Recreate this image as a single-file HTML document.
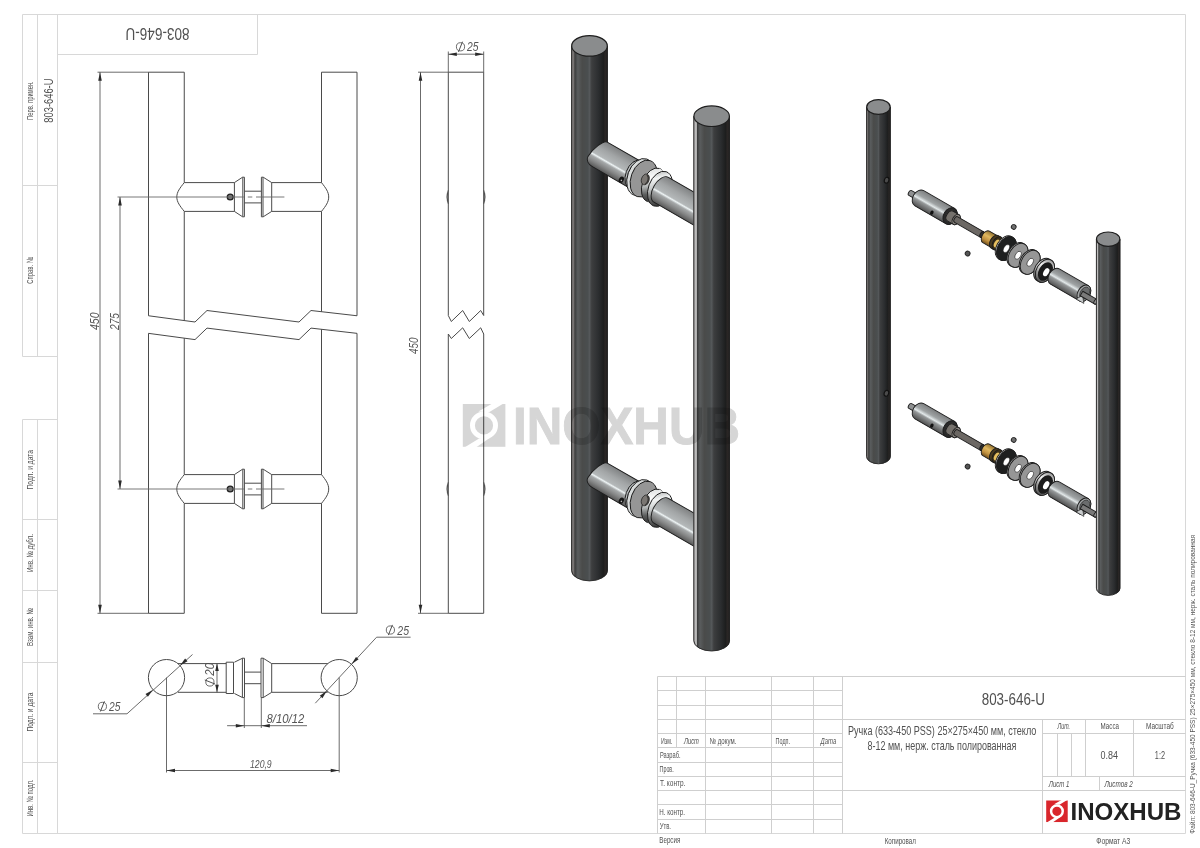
<!DOCTYPE html>
<html><head><meta charset="utf-8">
<style>
html,body{margin:0;padding:0;background:#fff;width:1200px;height:848px;overflow:hidden}
svg{display:block}
text{font-family:"Liberation Sans",sans-serif;fill:#505050}
.fr{stroke:#d8d8d8;stroke-width:1;fill:none}
.tb{stroke:#cfcfcf;stroke-width:1;fill:none}
.ln{stroke:#4a4a4a;stroke-width:1;fill:none}
.dm{stroke:#505050;stroke-width:0.85;fill:none}
.cl{stroke:#6a6a6a;stroke-width:0.9;fill:none}
.ar{fill:#2a2a2a;stroke:none}
</style></head><body>
<svg width="1200" height="848" viewBox="0 0 1200 848">
<!-- FRAME -->
<g id="frame">
<path class="fr" d="M22.5 356.5V14.5H1185.5V833.5H22.5V419.5"/>
<path class="fr" d="M57.5 14.5V833.5"/>
<path class="fr" d="M37.5 14.5V356.5M22.5 185.5H57.5M22.5 356.5H57.5"/>
<path class="fr" d="M37.5 419.5V833.5M22.5 419.5H57.5M22.5 519.5H57.5M22.5 590.5H57.5M22.5 662.5H57.5M22.5 762.5H57.5"/>
<path class="fr" d="M57.5 54.5H257.5V14.5"/>
</g>
<!-- TITLE BLOCK -->
<g id="title">
<path class="tb" d="M657.5 676.5H1185.5M657.5 676.5V833.5"/>
<path class="tb" d="M657.5 690.5H842.5M657.5 705.5H842.5M657.5 719.5H842.5M657.5 733.5H842.5M657.5 747.5H842.5M657.5 762.5H842.5M657.5 776.5H842.5M657.5 790.5H842.5M657.5 804.5H842.5M657.5 819.5H842.5"/>
<path class="tb" d="M676.5 676.5V747.5M705.5 676.5V833.5M771.5 676.5V833.5M813.5 676.5V833.5M842.5 676.5V833.5"/>
<path class="tb" d="M842.5 719.5H1185.5M842.5 790.5H1185.5M1042.5 719.5V833.5M1042.5 733.5H1185.5M1042.5 776.5H1185.5M1057.5 733.5V776.5M1071.5 733.5V776.5M1085.5 719.5V776.5M1133.5 719.5V776.5M1099.5 776.5V790.5"/>
</g>

<g id="texts">
<text transform="translate(33.1,119.9) rotate(-90)" x="0" y="0" font-size="9.2" textLength="38.6" lengthAdjust="spacingAndGlyphs">Перв. примен.</text>
<text transform="translate(52.9,122.7) rotate(-90)" x="0" y="0" font-size="12.6" textLength="44.2" lengthAdjust="spacingAndGlyphs">803-646-U</text>
<text transform="translate(33.1,283.8) rotate(-90)" x="0" y="0" font-size="9.2" textLength="26.8" lengthAdjust="spacingAndGlyphs">Справ. №</text>
<text transform="translate(33.2,489.5) rotate(-90)" x="0" y="0" font-size="9.2" textLength="39.6" lengthAdjust="spacingAndGlyphs">Подп. и дата</text>
<text transform="translate(33.2,572.1) rotate(-90)" x="0" y="0" font-size="9.2" textLength="38" lengthAdjust="spacingAndGlyphs">Инв. № дубл.</text>
<text transform="translate(33.2,646.1) rotate(-90)" x="0" y="0" font-size="9.2" textLength="37.9" lengthAdjust="spacingAndGlyphs">Взам. инв. №</text>
<text transform="translate(33.2,731.5) rotate(-90)" x="0" y="0" font-size="9.2" textLength="38.9" lengthAdjust="spacingAndGlyphs">Подп. и дата</text>
<text transform="translate(33.2,816.6) rotate(-90)" x="0" y="0" font-size="9.2" textLength="37.3" lengthAdjust="spacingAndGlyphs">Инв. № подл.</text>
<text transform="translate(189.5,28) rotate(180)" x="0" y="0" font-size="17" textLength="64" lengthAdjust="spacingAndGlyphs">803-646-U</text>
<text x="661" y="743.8" font-size="8.8" textLength="11.3" lengthAdjust="spacingAndGlyphs">Изм.</text>
<text x="684" y="743.8" font-size="8.8" font-style="italic" textLength="14.8" lengthAdjust="spacingAndGlyphs">Лист</text>
<text x="709.4" y="743.8" font-size="8.8" textLength="26.9" lengthAdjust="spacingAndGlyphs">№ докум.</text>
<text x="775.6" y="743.8" font-size="8.8" textLength="14.4" lengthAdjust="spacingAndGlyphs">Подп.</text>
<text x="820.6" y="743.8" font-size="8.8" font-style="italic" textLength="15.7" lengthAdjust="spacingAndGlyphs">Дата</text>
<text x="660" y="757.8" font-size="8.8" textLength="20.5" lengthAdjust="spacingAndGlyphs">Разраб.</text>
<text x="659.6" y="772" font-size="8.8" textLength="14.1" lengthAdjust="spacingAndGlyphs">Пров.</text>
<text x="660" y="786" font-size="8.8" textLength="25.4" lengthAdjust="spacingAndGlyphs">Т. контр.</text>
<text x="659.3" y="814.8" font-size="8.8" textLength="25.7" lengthAdjust="spacingAndGlyphs">Н. контр.</text>
<text x="659.7" y="828.8" font-size="8.8" textLength="11.3" lengthAdjust="spacingAndGlyphs">Утв.</text>
<text x="659.3" y="842.8" font-size="8.8" textLength="21" lengthAdjust="spacingAndGlyphs">Версия</text>
<text x="884.7" y="843.5" font-size="8.8" textLength="31.2" lengthAdjust="spacingAndGlyphs">Копировал</text>
<text x="1096.3" y="843.5" font-size="8.8" textLength="34" lengthAdjust="spacingAndGlyphs">Формат А3</text>
<text x="981.7" y="705" font-size="16" textLength="63.3" lengthAdjust="spacingAndGlyphs">803-646-U</text>
<text x="848" y="734.7" font-size="12.2" textLength="188.3" lengthAdjust="spacingAndGlyphs">Ручка (633-450 PSS) 25×275×450 мм, стекло</text>
<text x="867.5" y="749.7" font-size="12.2" textLength="148.8" lengthAdjust="spacingAndGlyphs">8-12 мм, нерж. сталь полированная</text>
<text x="1057.5" y="729.4" font-size="8.8" font-style="italic" textLength="12.5" lengthAdjust="spacingAndGlyphs">Лит.</text>
<text x="1100.6" y="729.4" font-size="8.8" textLength="18.4" lengthAdjust="spacingAndGlyphs">Масса</text>
<text x="1146" y="729.4" font-size="8.8" textLength="27.8" lengthAdjust="spacingAndGlyphs">Масштаб</text>
<text x="1100.6" y="759.4" font-size="11.1" textLength="17.5" lengthAdjust="spacingAndGlyphs">0.84</text>
<text x="1154.8" y="759.4" font-size="11.1" textLength="10.2" lengthAdjust="spacingAndGlyphs">1:2</text>
<text x="1048.8" y="786.5" font-size="8.8" font-style="italic" textLength="20.6" lengthAdjust="spacingAndGlyphs">Лист 1</text>
<text x="1104.4" y="786.5" font-size="8.8" font-style="italic" textLength="28.4" lengthAdjust="spacingAndGlyphs">Листов 2</text>
<text transform="translate(1195.2,833.7) rotate(-90)" x="0" y="0" font-size="7.3" textLength="298.8" lengthAdjust="spacingAndGlyphs">Файл: 803-646-U_Ручка (633-450 PSS) 25×275×450 мм, стекло 8-12 мм, нерж. сталь полированная</text>
<text transform="translate(98.6,330) rotate(-90)" x="0" y="0" font-size="12" font-style="italic" style="fill:#555" textLength="17.5" lengthAdjust="spacingAndGlyphs">450</text>
<text transform="translate(118.6,330) rotate(-90)" x="0" y="0" font-size="12" font-style="italic" style="fill:#555" textLength="17" lengthAdjust="spacingAndGlyphs">275</text>
<text transform="translate(417.5,354) rotate(-90)" x="0" y="0" font-size="12" font-style="italic" style="fill:#555" textLength="16.5" lengthAdjust="spacingAndGlyphs">450</text>
<circle cx="460.5" cy="46.8" r="4.1" style="fill:none;stroke:#555;stroke-width:0.85"/>
<path d="M458.46 51.9L462.54 41.7" style="fill:none;stroke:#444;stroke-width:0.95"/>
<text x="467" y="50.8" font-size="12" font-style="italic" style="fill:#555" textLength="11.5" lengthAdjust="spacingAndGlyphs">25</text>
<circle cx="102.4" cy="706.4" r="4.1" style="fill:none;stroke:#555;stroke-width:0.85"/>
<path d="M100.36 711.5L104.44 701.3" style="fill:none;stroke:#444;stroke-width:0.95"/>
<text x="109.1" y="710.8" font-size="12" font-style="italic" style="fill:#555" textLength="11.4" lengthAdjust="spacingAndGlyphs">25</text>
<circle cx="390.4" cy="630" r="4.1" style="fill:none;stroke:#555;stroke-width:0.85"/>
<path d="M388.36 635.1L392.44 624.9" style="fill:none;stroke:#444;stroke-width:0.95"/>
<text x="397.3" y="634.5" font-size="12" font-style="italic" style="fill:#555" textLength="11.7" lengthAdjust="spacingAndGlyphs">25</text>
<text x="250" y="767.5" font-size="11.4" font-style="italic" style="fill:#555" textLength="21.7" lengthAdjust="spacingAndGlyphs">120,9</text>
<text x="266.6" y="722.6" font-size="12.6" font-style="italic" style="fill:#555" textLength="37.6" lengthAdjust="spacingAndGlyphs">8/10/12</text>
<circle cx="209.9" cy="682" r="4.1" style="fill:none;stroke:#555;stroke-width:0.85"/>
<path d="M215 684.04L204.8 679.96" style="fill:none;stroke:#444;stroke-width:0.95"/>
<text transform="translate(214.1,675.7) rotate(-90)" x="0" y="0" font-size="12" font-style="italic" style="fill:#555" textLength="12.7" lengthAdjust="spacingAndGlyphs">20</text>
</g>
<g id="front">
<path class="ln" d="M148.5 315.75 L195 322 L207 310.5 L299 322 L311 310.5 L357 315.75"/>
<path class="ln" d="M148.5 333.35 L195 339.6 L207 328.1 L299 339.6 L311 328.1 L357 333.35"/>
<path class="ln" d="M148.5 72.2 L184.25 72.2"/>
<path class="ln" d="M321.5 72.2 L357 72.2"/>
<path class="ln" d="M148.5 613.3 L184.25 613.3"/>
<path class="ln" d="M321.5 613.3 L357 613.3"/>
<path class="ln" d="M148.5 72.2 L148.5 315.75"/>
<path class="ln" d="M148.5 333.35 L148.5 613.3"/>
<path class="ln" d="M357 72.2 L357 315.75"/>
<path class="ln" d="M357 333.35 L357 613.3"/>
<path class="ln" d="M184.25 182.6 C179.95 188 176.8 192 176.8 197 C176.8 202 179.95 206 184.25 211.4"/>
<path class="ln" d="M321.5 182.6 C325.8 188 328.7 192 328.7 197 C328.7 202 325.8 206 321.5 211.4"/>
<path class="ln" d="M184.25 182.6 L234.4 182.6"/>
<path class="ln" d="M184.25 211.4 L234.4 211.4"/>
<path class="ln" d="M234.4 182.6 L234.4 211.4"/>
<path class="ln" d="M234.4 182.6 L242.6 177.2 L244.4 177.2 L244.4 216.8 L242.6 216.8 L234.4 211.4"/>
<path class="ln" d="M242.8 177.2 L242.8 216.8"/>
<path class="ln" d="M244.4 191.2 L261.4 191.2"/>
<path class="ln" d="M244.4 202.9 L261.4 202.9"/>
<path class="ln" d="M271.7 182.6 L263.2 177.2 L261.4 177.2 L261.4 216.8 L263.2 216.8 L271.7 211.4"/>
<path class="ln" d="M263 177.2 L263 216.8"/>
<path class="ln" d="M271.7 182.6 L271.7 211.4"/>
<path class="ln" d="M271.7 182.6 L321.5 182.6"/>
<path class="ln" d="M271.7 211.4 L321.5 211.4"/>
<circle cx="230.2" cy="197" r="2.9" style="fill:#777;stroke:#222;stroke-width:1.4"/>
<path class="cl" d="M117.5 197 H243.8 M247.8 197 H252.3 M256 197 H284.4"/>
<path class="ln" d="M184.25 474.6 C179.95 480 176.8 484 176.8 489 C176.8 494 179.95 498 184.25 503.4"/>
<path class="ln" d="M321.5 474.6 C325.8 480 328.7 484 328.7 489 C328.7 494 325.8 498 321.5 503.4"/>
<path class="ln" d="M184.25 474.6 L234.4 474.6"/>
<path class="ln" d="M184.25 503.4 L234.4 503.4"/>
<path class="ln" d="M234.4 474.6 L234.4 503.4"/>
<path class="ln" d="M234.4 474.6 L242.6 469.2 L244.4 469.2 L244.4 508.8 L242.6 508.8 L234.4 503.4"/>
<path class="ln" d="M242.8 469.2 L242.8 508.8"/>
<path class="ln" d="M244.4 483.2 L261.4 483.2"/>
<path class="ln" d="M244.4 494.9 L261.4 494.9"/>
<path class="ln" d="M271.7 474.6 L263.2 469.2 L261.4 469.2 L261.4 508.8 L263.2 508.8 L271.7 503.4"/>
<path class="ln" d="M263 469.2 L263 508.8"/>
<path class="ln" d="M271.7 474.6 L271.7 503.4"/>
<path class="ln" d="M271.7 474.6 L321.5 474.6"/>
<path class="ln" d="M271.7 503.4 L321.5 503.4"/>
<circle cx="230.2" cy="489" r="2.9" style="fill:#777;stroke:#222;stroke-width:1.4"/>
<path class="cl" d="M117.5 489 H243.8 M247.8 489 H252.3 M256 489 H284.4"/>
<path class="ln" d="M184.25 72.2 L184.25 182.6"/>
<path class="ln" d="M184.25 211.4 L184.25 320.56"/>
<path class="ln" d="M184.25 338.16 L184.25 474.6"/>
<path class="ln" d="M184.25 503.4 L184.25 613.3"/>
<path class="ln" d="M321.5 72.2 L321.5 182.6"/>
<path class="ln" d="M321.5 211.4 L321.5 311.7"/>
<path class="ln" d="M321.5 329.3 L321.5 474.6"/>
<path class="ln" d="M321.5 503.4 L321.5 613.3"/>
<path class="dm" d="M97.5 72.2 L148.5 72.2"/>
<path class="dm" d="M97.5 613.3 L148.5 613.3"/>
<path class="dm" d="M100 72.2 L100 613.3"/>
<path class="ar" d="M100 72.2L98.2 80.7L101.8 80.7Z"/>
<path class="ar" d="M100 613.3L101.8 604.8L98.2 604.8Z"/>
<path class="dm" d="M120 197 L120 489"/>
<path class="ar" d="M120 197L118.2 205.5L121.8 205.5Z"/>
<path class="ar" d="M120 489L121.8 480.5L118.2 480.5Z"/>
</g>
<g id="side">
<path class="ln" d="M448.3 315.5 L451.3 321.5 L462.7 310.5 L469.3 321.5 L480.7 310.5 L483.7 315.5"/>
<path class="ln" d="M448.3 334 L451.3 338.5 L462.7 327.8 L469.3 338.5 L480.7 327.8 L483.7 334"/>
<path class="ln" d="M448.3 72.2 L483.7 72.2"/>
<path class="ln" d="M448.3 613.3 L483.7 613.3"/>
<path class="ln" d="M448.3 72.2 L448.3 315.5"/>
<path class="ln" d="M448.3 334 L448.3 613.3"/>
<path d="M448.3 190 Q445.1 197 448.3 204 Q446.9 197 448.3 190Z" style="fill:#3a3a3a;stroke:#555;stroke-width:0.4"/>
<path d="M448.3 482 Q445.1 489 448.3 496 Q446.9 489 448.3 482Z" style="fill:#3a3a3a;stroke:#555;stroke-width:0.4"/>
<path class="ln" d="M483.7 72.2 L483.7 315.5"/>
<path class="ln" d="M483.7 334 L483.7 613.3"/>
<path d="M483.7 190 Q486.9 197 483.7 204 Q485.1 197 483.7 190Z" style="fill:#3a3a3a;stroke:#555;stroke-width:0.4"/>
<path d="M483.7 482 Q486.9 489 483.7 496 Q485.1 489 483.7 482Z" style="fill:#3a3a3a;stroke:#555;stroke-width:0.4"/>
<path class="dm" d="M418 72.2 L448.3 72.2"/>
<path class="dm" d="M418 613.3 L448.3 613.3"/>
<path class="dm" d="M420.5 72.2 L420.5 613.3"/>
<path class="ar" d="M420.5 72.2L418.7 80.7L422.3 80.7Z"/>
<path class="ar" d="M420.5 613.3L422.3 604.8L418.7 604.8Z"/>
<path class="dm" d="M448.3 51.5 L448.3 72.2"/>
<path class="dm" d="M483.7 51.5 L483.7 72.2"/>
<path class="dm" d="M448.3 54.2 L483.7 54.2"/>
<path class="ar" d="M448.3 54.2L456.8 56L456.8 52.4Z"/>
<path class="ar" d="M483.7 54.2L475.2 52.4L475.2 56Z"/>
</g>
<g id="bottom">
<circle class="ln" cx="166.5" cy="677.6" r="18.1"/>
<circle class="ln" cx="339.2" cy="677.6" r="18.1"/>
<path class="ln" d="M177.97 663.6 L226.2 663.6"/>
<path class="ln" d="M177.97 692.3 L226.2 692.3"/>
<path class="ln" d="M226.2 662.2 H233.5 V693.5 H226.2 Z"/>
<path class="ln" d="M234.4 662.2 L242.6 658.2 L244.5 658.2 L244.5 697.6 L242.6 697.6 L234.4 693.5"/>
<path class="ln" d="M242.4 658.2 L242.4 697.6"/>
<path class="ln" d="M244.5 672.1 L261 672.1"/>
<path class="ln" d="M244.5 683.7 L261 683.7"/>
<path class="ln" d="M271.7 663.6 L263.2 658.2 L261 658.2 L261 697.6 L263.2 697.6 L271.7 692.3"/>
<path class="ln" d="M263.2 658.2 L263.2 697.6"/>
<path class="ln" d="M271.7 663.6 L271.7 692.3"/>
<path class="ln" d="M271.7 663.6 L327.73 663.6"/>
<path class="ln" d="M271.7 692.3 L327.73 692.3"/>
<path class="dm" d="M217 663.6 L217 692.3"/>
<path class="ar" d="M217 663.6L215.2 671.1L218.8 671.1Z"/>
<path class="ar" d="M217 692.3L218.8 684.8L215.2 684.8Z"/>
<path class="dm" d="M93 713.8 L127 713.8 L192.5 654.5"/>
<path class="ar" d="M153.02 689.67L145.49 694.02L147.9 696.7Z"/>
<path class="ar" d="M179.98 665.53L187.51 661.18L185.1 658.5Z"/>
<path class="dm" d="M410.6 637.2 L376.6 637.2 L315.3 703.2"/>
<path class="ar" d="M351.52 664.34L358.62 659.33L355.98 656.88Z"/>
<path class="ar" d="M326.88 690.86L319.78 695.87L322.42 698.32Z"/>
<path class="dm" d="M166.5 677.6 L166.5 772.5"/>
<path class="dm" d="M339.2 677.6 L339.2 772.5"/>
<path class="dm" d="M166.5 770.5 L339.2 770.5"/>
<path class="ar" d="M166.5 770.5L175 772.3L175 768.7Z"/>
<path class="ar" d="M339.2 770.5L330.7 768.7L330.7 772.3Z"/>
<path class="dm" d="M244.3 698 L244.3 728"/>
<path class="dm" d="M261.3 698 L261.3 728"/>
<path class="dm" d="M227.1 725.7 L307 725.7"/>
<path class="ar" d="M244.3 725.7L235.8 723.9L235.8 727.5Z"/>
<path class="ar" d="M261.3 725.7L269.8 727.5L269.8 723.9Z"/>
</g>
<defs>
<linearGradient id="gBar" x1="0" y1="0" x2="1" y2="0"><stop offset="0" stop-color="#7c7876"/><stop offset="0.07" stop-color="#767372"/><stop offset="0.1" stop-color="#3c3d3d"/><stop offset="0.18" stop-color="#5a5d5e"/><stop offset="0.3" stop-color="#4a4b4a"/><stop offset="0.45" stop-color="#4a4e4f"/><stop offset="0.5" stop-color="#55585a"/><stop offset="0.56" stop-color="#3d3e3f"/><stop offset="0.75" stop-color="#2b2d2f"/><stop offset="0.88" stop-color="#1d1e1e"/><stop offset="0.93" stop-color="#2a2625"/><stop offset="1" stop-color="#202020"/></linearGradient>
<linearGradient id="gBarR" x1="0" y1="0" x2="1" y2="0"><stop offset="0" stop-color="#9a9898"/><stop offset="0.08" stop-color="#c8c8c8"/><stop offset="0.11" stop-color="#3c3d3d"/><stop offset="0.18" stop-color="#5a5d5e"/><stop offset="0.3" stop-color="#4a4b4a"/><stop offset="0.45" stop-color="#4a4e4f"/><stop offset="0.5" stop-color="#55585a"/><stop offset="0.56" stop-color="#3d3e3f"/><stop offset="0.75" stop-color="#2b2d2f"/><stop offset="0.88" stop-color="#1d1e1e"/><stop offset="0.93" stop-color="#2a2625"/><stop offset="1" stop-color="#202020"/></linearGradient>
<linearGradient id="gTube" gradientUnits="userSpaceOnUse" x1="0" y1="-14.5" x2="0" y2="14.5"><stop offset="0" stop-color="#7f8182"/><stop offset="0.3" stop-color="#a2a5a6"/><stop offset="0.55" stop-color="#b4b8b9"/><stop offset="0.6" stop-color="#eef4f5"/><stop offset="0.67" stop-color="#a5a8a9"/><stop offset="0.82" stop-color="#858686"/><stop offset="1" stop-color="#555"/></linearGradient>
<linearGradient id="gCone" gradientUnits="userSpaceOnUse" x1="0" y1="-19" x2="0" y2="19"><stop offset="0" stop-color="#8a8c8c"/><stop offset="0.25" stop-color="#d8dcdc"/><stop offset="0.45" stop-color="#ffffff"/><stop offset="0.6" stop-color="#a8abab"/><stop offset="0.8" stop-color="#505252"/><stop offset="1" stop-color="#3a3a3a"/></linearGradient>
<linearGradient id="gT2" gradientUnits="userSpaceOnUse" x1="0" y1="-9" x2="0" y2="9"><stop offset="0" stop-color="#7c7e7f"/><stop offset="0.35" stop-color="#9fa3a4"/><stop offset="0.52" stop-color="#e2e8e9"/><stop offset="0.62" stop-color="#959899"/><stop offset="1" stop-color="#4c4c4c"/></linearGradient>
<linearGradient id="gChrome" gradientUnits="userSpaceOnUse" x1="0" y1="-13" x2="0" y2="13"><stop offset="0" stop-color="#909090"/><stop offset="0.35" stop-color="#f4f4f4"/><stop offset="0.6" stop-color="#b0b0b0"/><stop offset="1" stop-color="#4a4a4a"/></linearGradient>
<linearGradient id="gBrass" gradientUnits="userSpaceOnUse" x1="0" y1="-7" x2="0" y2="7"><stop offset="0" stop-color="#8a6a2a"/><stop offset="0.4" stop-color="#e0b860"/><stop offset="0.7" stop-color="#c09040"/><stop offset="1" stop-color="#6a4a18"/></linearGradient>
<linearGradient id="gCone2" x1="0.2" y1="0" x2="0.5" y2="1"><stop offset="0" stop-color="#d8dada"/><stop offset="0.35" stop-color="#ffffff"/><stop offset="0.55" stop-color="#b8bbbb"/><stop offset="0.8" stop-color="#5a5c5c"/><stop offset="1" stop-color="#3a3a3a"/></linearGradient>
<linearGradient id="gFace2" x1="0" y1="0" x2="0.4" y2="1"><stop offset="0" stop-color="#9a9c9c"/><stop offset="0.3" stop-color="#f2f4f4"/><stop offset="0.55" stop-color="#c8cbcb"/><stop offset="0.8" stop-color="#6e7070"/><stop offset="1" stop-color="#444"/></linearGradient>
</defs>
<path d="M571.2 45.9 V570.6 A18.3 10.3 0 0 0 607.8 570.6 V45.9 Z" fill="url(#gBar)" style="stroke:none"/>
<path d="M571.6 45.9 V570.6 A17.9 10.3 0 0 0 607.4 570.6 V45.9" fill="none" style="stroke:#222;stroke-width:0.9"/>
<ellipse cx="589.5" cy="45.9" rx="17.8" ry="10.3" fill="#8a8c8d" style="stroke:#1e1e1e;stroke-width:1.2"/>
<g transform="translate(642.5,179) rotate(30)">
<path d="M-49 -14.4 H-6 V14.4 H-50 C-54 14.4 -58.5 12 -58.5 8 C-58.5 -1 -53 -14.4 -49 -14.4Z" fill="url(#gTube)" style="stroke:#1c1c1c;stroke-width:0.9"/>
<ellipse cx="-18" cy="11.2" rx="2.4" ry="3.3" fill="#151515"/><circle cx="-17.6" cy="11.8" r="0.8" fill="#bbb"/>
</g>
<g transform="translate(642.5,179)">
<ellipse cx="-6.3" cy="-3.9" rx="10.5" ry="15.6" transform="rotate(20 -6.3 -3.9)" fill="#b9bdbe" style="stroke:#1c1c1c;stroke-width:0.9"/>
<ellipse cx="-4.3" cy="-2.8" rx="10.5" ry="15.8" transform="rotate(20 -4.3 -2.8)" fill="#d2d5d5" style="stroke:#333;stroke-width:0.7"/>
<ellipse cx="-2.2" cy="-2" rx="12.7" ry="19.1" transform="rotate(20 -2.2 -2)" fill="#d8dbdb" style="stroke:#1c1c1c;stroke-width:0.9"/>
<ellipse cx="1.2" cy="-0.4" rx="12.7" ry="19.1" transform="rotate(20 1.2 -0.4)" fill="#969696" style="stroke:#1c1c1c;stroke-width:0.9"/>
<ellipse cx="11" cy="6" rx="11.2" ry="17.6" transform="rotate(20 11 6)" fill="url(#gCone2)" style="stroke:#1c1c1c;stroke-width:0.9"/>
<path d="M17 -10.6 L23 -7.1 L11 26.1 L5 22.6 Z" fill="url(#gCone2)" style="stroke:none"/>
<ellipse cx="17.5" cy="9.8" rx="11.6" ry="18.2" transform="rotate(20 17.5 9.8)" fill="url(#gFace2)" style="stroke:#1c1c1c;stroke-width:0.9"/>
<ellipse cx="2.8" cy="0.4" rx="3.8" ry="5.6" transform="rotate(20 2.8 0.4)" fill="#7a7672" style="stroke:#222;stroke-width:0.7"/>
<path d="M4.6 -4.2 A3.8 5.6 20 0 1 2.4 5.6" fill="none" style="stroke:#3a3836;stroke-width:1.6"/>
</g>
<g transform="translate(642.5,179) rotate(30)">
<path d="M21.5 -14.4 H75 V14.4 H21.5 A8 14.4 0 0 1 21.5 -14.4Z" fill="url(#gTube)" style="stroke:#1c1c1c;stroke-width:0.9"/>
</g>
<g transform="translate(642.5,500) rotate(30)">
<path d="M-49 -14.4 H-6 V14.4 H-50 C-54 14.4 -58.5 12 -58.5 8 C-58.5 -1 -53 -14.4 -49 -14.4Z" fill="url(#gTube)" style="stroke:#1c1c1c;stroke-width:0.9"/>
<ellipse cx="-18" cy="11.2" rx="2.4" ry="3.3" fill="#151515"/><circle cx="-17.6" cy="11.8" r="0.8" fill="#bbb"/>
</g>
<g transform="translate(642.5,500)">
<ellipse cx="-6.3" cy="-3.9" rx="10.5" ry="15.6" transform="rotate(20 -6.3 -3.9)" fill="#b9bdbe" style="stroke:#1c1c1c;stroke-width:0.9"/>
<ellipse cx="-4.3" cy="-2.8" rx="10.5" ry="15.8" transform="rotate(20 -4.3 -2.8)" fill="#d2d5d5" style="stroke:#333;stroke-width:0.7"/>
<ellipse cx="-2.2" cy="-2" rx="12.7" ry="19.1" transform="rotate(20 -2.2 -2)" fill="#d8dbdb" style="stroke:#1c1c1c;stroke-width:0.9"/>
<ellipse cx="1.2" cy="-0.4" rx="12.7" ry="19.1" transform="rotate(20 1.2 -0.4)" fill="#969696" style="stroke:#1c1c1c;stroke-width:0.9"/>
<ellipse cx="11" cy="6" rx="11.2" ry="17.6" transform="rotate(20 11 6)" fill="url(#gCone2)" style="stroke:#1c1c1c;stroke-width:0.9"/>
<path d="M17 -10.6 L23 -7.1 L11 26.1 L5 22.6 Z" fill="url(#gCone2)" style="stroke:none"/>
<ellipse cx="17.5" cy="9.8" rx="11.6" ry="18.2" transform="rotate(20 17.5 9.8)" fill="url(#gFace2)" style="stroke:#1c1c1c;stroke-width:0.9"/>
<ellipse cx="2.8" cy="0.4" rx="3.8" ry="5.6" transform="rotate(20 2.8 0.4)" fill="#7a7672" style="stroke:#222;stroke-width:0.7"/>
<path d="M4.6 -4.2 A3.8 5.6 20 0 1 2.4 5.6" fill="none" style="stroke:#3a3836;stroke-width:1.6"/>
</g>
<g transform="translate(642.5,500) rotate(30)">
<path d="M21.5 -14.4 H75 V14.4 H21.5 A8 14.4 0 0 1 21.5 -14.4Z" fill="url(#gTube)" style="stroke:#1c1c1c;stroke-width:0.9"/>
</g>
<path d="M693.4 116.2 V640.7 A18.25 10.3 0 0 0 729.9 640.7 V116.2 Z" fill="url(#gBarR)" style="stroke:none"/>
<path d="M693.8 116.2 V640.7 A17.85 10.3 0 0 0 729.5 640.7 V116.2" fill="none" style="stroke:#222;stroke-width:0.9"/>
<ellipse cx="711.65" cy="116.2" rx="17.75" ry="10.3" fill="#8a8c8d" style="stroke:#1e1e1e;stroke-width:1.2"/>
<path d="M866.2 107 V456.4 A12.25 7.4 0 0 0 890.7 456.4 V107 Z" fill="url(#gBar)" style="stroke:none"/>
<path d="M866.6 107 V456.4 A11.85 7.4 0 0 0 890.3 456.4 V107" fill="none" style="stroke:#222;stroke-width:0.9"/>
<ellipse cx="878.45" cy="107" rx="11.75" ry="7.4" fill="#8a8c8d" style="stroke:#1e1e1e;stroke-width:1.2"/>
<ellipse cx="886.6" cy="180.2" rx="2.2" ry="3" transform="rotate(20 886.6 180.2)" fill="#4a4a4a" style="stroke:#111;stroke-width:1.1"/>
<ellipse cx="886.4" cy="393.3" rx="2.2" ry="3" transform="rotate(20 886.4 393.3)" fill="#4a4a4a" style="stroke:#111;stroke-width:1.1"/>
<g transform="translate(918.5,197.8) rotate(30)">
<path d="M-9.5 -2.8 H1 A1.74 2.8 0 0 1 1 2.8 H-9.5 A1.74 2.8 0 0 1 -9.5 -2.8Z" fill="#8e9091" style="stroke:#1c1c1c;stroke-width:0.9"/>
<path d="M1 -8.8 H36.5 A6.6 8.8 0 0 1 36.5 8.8 H1 A6.6 8.8 0 0 1 1 -8.8Z" fill="url(#gT2)" style="stroke:#1c1c1c;stroke-width:0.9"/>
<ellipse cx="36.5" cy="0" rx="6.6" ry="8.8" fill="#2a2a2a" style="stroke:#1c1c1c;stroke-width:0.9"/>
<ellipse cx="36.5" cy="0" rx="3.6" ry="6" fill="#5a5652"/>
<ellipse cx="19" cy="6.2" rx="1.6" ry="2.2" fill="#111"/>
<path d="M36.5 -5.6 H43.5 A3.47 5.6 0 0 1 43.5 5.6 H36.5 A3.47 5.6 0 0 1 36.5 -5.6Z" fill="#75716c" style="stroke:#1c1c1c;stroke-width:0.9"/>
<ellipse cx="43.5" cy="0" rx="3.47" ry="5.6" fill="#8a8580" style="stroke:#1c1c1c;stroke-width:0.9"/>
<path d="M43.5 -3.2 H73.5 A1.98 3.2 0 0 1 73.5 3.2 H43.5 A1.98 3.2 0 0 1 43.5 -3.2Z" fill="#6c6864" style="stroke:#1c1c1c;stroke-width:0.9"/>
<ellipse cx="73.5" cy="0" rx="1.98" ry="3.2" fill="#2e2e2e" style="stroke:#1c1c1c;stroke-width:0.9"/>
<path d="M78 -6.6 H88 A4.09 6.6 0 0 1 88 6.6 H78 A4.09 6.6 0 0 1 78 -6.6Z" fill="url(#gBrass)" style="stroke:#1c1c1c;stroke-width:0.9"/>
<path d="M88 -7.2 H91 A4.46 7.2 0 0 1 91 7.2 H88 A4.46 7.2 0 0 1 88 -7.2Z" fill="#4a3a1e" style="stroke:#1c1c1c;stroke-width:0.9"/>
<ellipse cx="91" cy="0" rx="4.46" ry="7.2" fill="#3a2e18" style="stroke:#1c1c1c;stroke-width:0.9"/>
<ellipse cx="91" cy="0.5" rx="2.8" ry="4.4" fill="#e8c060"/>
<path d="M100.1 -12.9 H101.5 A8.77 12.9 0 0 1 101.5 12.9 H100.1 A8.77 12.9 0 0 1 100.1 -12.9Z" fill="#cfcfcf" style="stroke:#1c1c1c;stroke-width:0.9"/>
<ellipse cx="101.5" cy="0" rx="8.77" ry="12.9" fill="#1e1f1f" style="stroke:#1c1c1c;stroke-width:0.9"/>
<ellipse cx="101.5" cy="0" rx="2.6" ry="4.4" fill="#fff" style="stroke:#222;stroke-width:0.6"/>
<path d="M113.6 -12.9 H115 A8.77 12.9 0 0 1 115 12.9 H113.6 A8.77 12.9 0 0 1 113.6 -12.9Z" fill="#aaaaaa" style="stroke:#1c1c1c;stroke-width:0.9"/>
<ellipse cx="115" cy="0" rx="8.77" ry="12.9" fill="#969696" style="stroke:#1c1c1c;stroke-width:0.9"/>
<ellipse cx="115" cy="0" rx="2.6" ry="4.4" fill="#fff" style="stroke:#222;stroke-width:0.6"/>
<path d="M127.6 -12.9 H129 A8.77 12.9 0 0 1 129 12.9 H127.6 A8.77 12.9 0 0 1 127.6 -12.9Z" fill="#aaaaaa" style="stroke:#1c1c1c;stroke-width:0.9"/>
<ellipse cx="129" cy="0" rx="8.77" ry="12.9" fill="#969696" style="stroke:#1c1c1c;stroke-width:0.9"/>
<ellipse cx="129" cy="0" rx="2.6" ry="4.4" fill="#fff" style="stroke:#222;stroke-width:0.6"/>
<path d="M144 -12.4 H146 A8.43 12.4 0 0 1 146 12.4 H144 A8.43 12.4 0 0 1 144 -12.4Z" fill="url(#gChrome)" style="stroke:#1c1c1c;stroke-width:0.9"/>
<ellipse cx="146" cy="0" rx="8.43" ry="12.4" fill="url(#gChrome)" style="stroke:#1c1c1c;stroke-width:0.9"/>
<ellipse cx="146.8" cy="0.4" rx="6.6" ry="10" fill="#1c1c1c"/>
<ellipse cx="147.8" cy="0.6" rx="2.6" ry="4.4" fill="#fff"/>
<path d="M157.5 -8.8 H191 A6.16 8.8 0 0 1 191 8.8 H157.5 A6.16 8.8 0 0 1 157.5 -8.8Z" fill="url(#gT2)" style="stroke:#1c1c1c;stroke-width:0.9"/>
<ellipse cx="191" cy="0" rx="6.16" ry="8.8" fill="#a4a7a8" style="stroke:#1c1c1c;stroke-width:0.9"/>
<ellipse cx="191.6" cy="-0.5" rx="4.4" ry="6.6" fill="#6a6c6d" style="stroke:#222;stroke-width:0.6"/>
<path d="M191 2.5 L196 8.8 L187 8.8Z" fill="#c9cccd" style="stroke:#222;stroke-width:0.6"/>
<path d="M189 -1.2 H205.4 A1.6 2.6 0 0 1 205.4 4 H189Z" fill="#7a7a7a" style="stroke:#1c1c1c;stroke-width:0.9"/>
<ellipse cx="205.4" cy="1.4" rx="1.6" ry="2.6" fill="#9a9a9a" style="stroke:#1c1c1c;stroke-width:0.9"/>
<circle cx="97" cy="-22.4" r="2.4" fill="#6e6e6e" style="stroke:#1c1c1c;stroke-width:0.9"/>
<circle cx="70.4" cy="23.7" r="2.4" fill="#555" style="stroke:#1c1c1c;stroke-width:0.9"/>
</g>
<g transform="translate(918.5,410.8) rotate(30)">
<path d="M-9.5 -2.8 H1 A1.74 2.8 0 0 1 1 2.8 H-9.5 A1.74 2.8 0 0 1 -9.5 -2.8Z" fill="#8e9091" style="stroke:#1c1c1c;stroke-width:0.9"/>
<path d="M1 -8.8 H36.5 A6.6 8.8 0 0 1 36.5 8.8 H1 A6.6 8.8 0 0 1 1 -8.8Z" fill="url(#gT2)" style="stroke:#1c1c1c;stroke-width:0.9"/>
<ellipse cx="36.5" cy="0" rx="6.6" ry="8.8" fill="#2a2a2a" style="stroke:#1c1c1c;stroke-width:0.9"/>
<ellipse cx="36.5" cy="0" rx="3.6" ry="6" fill="#5a5652"/>
<ellipse cx="19" cy="6.2" rx="1.6" ry="2.2" fill="#111"/>
<path d="M36.5 -5.6 H43.5 A3.47 5.6 0 0 1 43.5 5.6 H36.5 A3.47 5.6 0 0 1 36.5 -5.6Z" fill="#75716c" style="stroke:#1c1c1c;stroke-width:0.9"/>
<ellipse cx="43.5" cy="0" rx="3.47" ry="5.6" fill="#8a8580" style="stroke:#1c1c1c;stroke-width:0.9"/>
<path d="M43.5 -3.2 H73.5 A1.98 3.2 0 0 1 73.5 3.2 H43.5 A1.98 3.2 0 0 1 43.5 -3.2Z" fill="#6c6864" style="stroke:#1c1c1c;stroke-width:0.9"/>
<ellipse cx="73.5" cy="0" rx="1.98" ry="3.2" fill="#2e2e2e" style="stroke:#1c1c1c;stroke-width:0.9"/>
<path d="M78 -6.6 H88 A4.09 6.6 0 0 1 88 6.6 H78 A4.09 6.6 0 0 1 78 -6.6Z" fill="url(#gBrass)" style="stroke:#1c1c1c;stroke-width:0.9"/>
<path d="M88 -7.2 H91 A4.46 7.2 0 0 1 91 7.2 H88 A4.46 7.2 0 0 1 88 -7.2Z" fill="#4a3a1e" style="stroke:#1c1c1c;stroke-width:0.9"/>
<ellipse cx="91" cy="0" rx="4.46" ry="7.2" fill="#3a2e18" style="stroke:#1c1c1c;stroke-width:0.9"/>
<ellipse cx="91" cy="0.5" rx="2.8" ry="4.4" fill="#e8c060"/>
<path d="M100.1 -12.9 H101.5 A8.77 12.9 0 0 1 101.5 12.9 H100.1 A8.77 12.9 0 0 1 100.1 -12.9Z" fill="#cfcfcf" style="stroke:#1c1c1c;stroke-width:0.9"/>
<ellipse cx="101.5" cy="0" rx="8.77" ry="12.9" fill="#1e1f1f" style="stroke:#1c1c1c;stroke-width:0.9"/>
<ellipse cx="101.5" cy="0" rx="2.6" ry="4.4" fill="#fff" style="stroke:#222;stroke-width:0.6"/>
<path d="M113.6 -12.9 H115 A8.77 12.9 0 0 1 115 12.9 H113.6 A8.77 12.9 0 0 1 113.6 -12.9Z" fill="#aaaaaa" style="stroke:#1c1c1c;stroke-width:0.9"/>
<ellipse cx="115" cy="0" rx="8.77" ry="12.9" fill="#969696" style="stroke:#1c1c1c;stroke-width:0.9"/>
<ellipse cx="115" cy="0" rx="2.6" ry="4.4" fill="#fff" style="stroke:#222;stroke-width:0.6"/>
<path d="M127.6 -12.9 H129 A8.77 12.9 0 0 1 129 12.9 H127.6 A8.77 12.9 0 0 1 127.6 -12.9Z" fill="#aaaaaa" style="stroke:#1c1c1c;stroke-width:0.9"/>
<ellipse cx="129" cy="0" rx="8.77" ry="12.9" fill="#969696" style="stroke:#1c1c1c;stroke-width:0.9"/>
<ellipse cx="129" cy="0" rx="2.6" ry="4.4" fill="#fff" style="stroke:#222;stroke-width:0.6"/>
<path d="M144 -12.4 H146 A8.43 12.4 0 0 1 146 12.4 H144 A8.43 12.4 0 0 1 144 -12.4Z" fill="url(#gChrome)" style="stroke:#1c1c1c;stroke-width:0.9"/>
<ellipse cx="146" cy="0" rx="8.43" ry="12.4" fill="url(#gChrome)" style="stroke:#1c1c1c;stroke-width:0.9"/>
<ellipse cx="146.8" cy="0.4" rx="6.6" ry="10" fill="#1c1c1c"/>
<ellipse cx="147.8" cy="0.6" rx="2.6" ry="4.4" fill="#fff"/>
<path d="M157.5 -8.8 H191 A6.16 8.8 0 0 1 191 8.8 H157.5 A6.16 8.8 0 0 1 157.5 -8.8Z" fill="url(#gT2)" style="stroke:#1c1c1c;stroke-width:0.9"/>
<ellipse cx="191" cy="0" rx="6.16" ry="8.8" fill="#a4a7a8" style="stroke:#1c1c1c;stroke-width:0.9"/>
<ellipse cx="191.6" cy="-0.5" rx="4.4" ry="6.6" fill="#6a6c6d" style="stroke:#222;stroke-width:0.6"/>
<path d="M191 2.5 L196 8.8 L187 8.8Z" fill="#c9cccd" style="stroke:#222;stroke-width:0.6"/>
<path d="M189 -1.2 H205.4 A1.6 2.6 0 0 1 205.4 4 H189Z" fill="#7a7a7a" style="stroke:#1c1c1c;stroke-width:0.9"/>
<ellipse cx="205.4" cy="1.4" rx="1.6" ry="2.6" fill="#9a9a9a" style="stroke:#1c1c1c;stroke-width:0.9"/>
<circle cx="97" cy="-22.4" r="2.4" fill="#6e6e6e" style="stroke:#1c1c1c;stroke-width:0.9"/>
<circle cx="70.4" cy="23.7" r="2.4" fill="#555" style="stroke:#1c1c1c;stroke-width:0.9"/>
</g>
<path d="M1096 239.2 V588.2 A12.15 7.2 0 0 0 1120.3 588.2 V239.2 Z" fill="url(#gBarR)" style="stroke:none"/>
<path d="M1096.4 239.2 V588.2 A11.75 7.2 0 0 0 1119.9 588.2 V239.2" fill="none" style="stroke:#222;stroke-width:0.9"/>
<ellipse cx="1108.15" cy="239.2" rx="11.65" ry="7.2" fill="#8a8c8d" style="stroke:#1e1e1e;stroke-width:1.2"/>
<defs><mask id="lgm" maskUnits="userSpaceOnUse" x="-1" y="-1" width="45" height="45"><rect x="-1" y="-1" width="45" height="45" fill="#fff"/><circle cx="21.2" cy="21.4" r="11.55" fill="none" stroke="#000" stroke-width="4.9"/><path d="M30.4 -1 H41.5 L26.2 8.3 L15.6 7.6Z M1.2 43.8 H12.7 L27.6 33.4 L16.3 34.4Z" fill="#000"/></mask></defs>
<g style="mix-blend-mode:multiply">
<g transform="translate(462.8,404)"><rect x="0" y="0" width="42.6" height="42.8" fill="#d6d6d6" mask="url(#lgm)"/></g>
<text x="513" y="443.8" font-size="52.5" font-weight="bold" style="fill:#d6d6d6;stroke:#d6d6d6;stroke-width:0.9" textLength="227" lengthAdjust="spacingAndGlyphs">INOXHUB</text>
</g>
<g transform="translate(1046.2,800.5) scale(0.505)"><rect x="0" y="0" width="42.6" height="42.8" fill="#d9262c" mask="url(#lgm)"/></g>
<text x="1070.5" y="820.3" font-size="24" font-weight="bold" style="fill:#222" textLength="111" lengthAdjust="spacingAndGlyphs">INOXHUB</text>
</svg>
</body></html>
